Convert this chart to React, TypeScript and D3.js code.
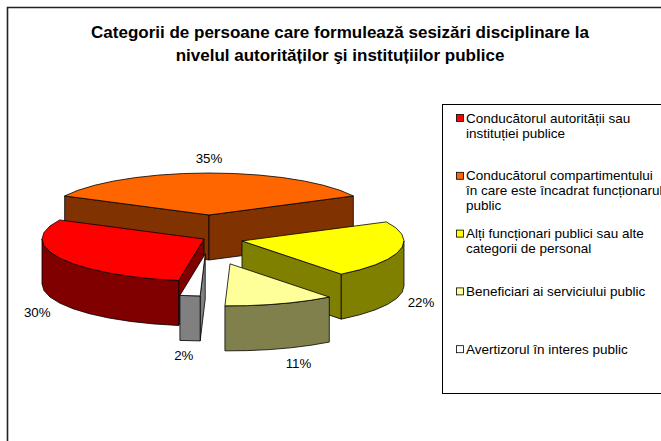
import * as d3 from "d3";

const categories = [
  "Conducătorul autorității sau instituției publice",
  "Conducătorul compartimentului în care este încadrat funcționarul public",
  "Alți funcționari publici sau alte categorii de personal",
  "Beneficiari ai serviciului public",
  "Avertizorul în interes public",
];
const values = [30, 35, 22, 11, 2];
const valueLabels = ["30%", "35%", "22%", "11%", "2%"];
const legendLines = [
  ["Conducătorul autorității sau", "instituției publice"],
  ["Conducătorul compartimentului", "în care este încadrat funcționarul", "public"],
  ["Alți funcționari publici sau alte", "categorii de personal"],
  ["Beneficiari ai serviciului public"],
  ["Avertizorul în interes public"],
];
const titleLines = [
  "Categorii de persoane care formulează sesizări disciplinare la",
  "nivelul autorităților şi instituțiilor publice",
];

const W = 661;
const H = 441;
const topFill = ["#FF0000", "#FF6600", "#FFFF00", "#FFFF99", "#FFFFFF"];
const sideFill = ["#800000", "#803300", "#808000", "#80804D", "#808080"];
// how far each slice is pulled out
const explode = [5.6, 57.5, 33.8, 68, 40];

const font = "'Liberation Sans', Arial, sans-serif";
const cx = 209;
const cy = 238;
const rx = 162;
const ry = 42;
const depth = 45;
const ke = 0.4;
const deg = Math.PI / 180;

type P = [number, number];

const line = d3.line<P>();
const poly = (pts: P[]) => line(pts) + "Z";

const App = () => {
  const pie = d3
    .pie<number>()
    .sort(null)
    .startAngle(189 * deg)
    .endAngle(189 * deg + 2 * Math.PI);
  const arcs = pie(values);

  const slices = arcs.map((a, i) => {
    const mid = (a.startAngle + a.endAngle) / 2;
    const ox = cx + explode[i] * Math.sin(mid);
    const oy = cy - explode[i] * ke * Math.cos(mid);
    const edge = (ang: number, h: number): P => [
      ox + rx * Math.sin(ang),
      oy - ry * Math.cos(ang) + h,
    ];
    const arcPts = (a0: number, a1: number, h: number): P[] => {
      const n = Math.max(1, Math.ceil((a1 - a0) / (9 * deg)));
      return d3.range(n + 1).map((k) => edge(a0 + ((a1 - a0) * k) / n, h));
    };
    const faces: string[] = [];
    const radial = (ang: number) =>
      poly([[ox, oy], edge(ang, 0), edge(ang, depth), [ox, oy + depth]]);
    if (Math.sin(a.startAngle) < 0) faces.push(radial(a.startAngle));
    if (Math.sin(a.endAngle) > 0) faces.push(radial(a.endAngle));
    // front part of the outer wall
    for (const base of [90 * deg, 450 * deg]) {
      const s = Math.max(a.startAngle, base);
      const e = Math.min(a.endAngle, base + Math.PI);
      if (e > s) {
        const upper = arcPts(s, e, 0);
        const lower = arcPts(s, e, depth).reverse();
        faces.push(poly([...upper, ...lower]));
      }
    }
    const top = poly([[ox, oy], ...arcPts(a.startAngle, a.endAngle, 0)]);
    const front = -Math.cos(mid) > 0;
    const lx =
      ox + (rx + 21) * Math.sin(mid) + 45 * Math.sin(mid) * Math.max(0, -Math.cos(mid)) ** 3;
    const ly = front
      ? oy - (ry + 10) * Math.cos(mid) + depth + 5
      : oy - (ry + 15) * Math.cos(mid);
    return { i, mid, faces, top, lx, ly };
  });

  const order = [...slices].sort((a, b) => -Math.cos(a.mid) + Math.cos(b.mid));

  const legendY = d3.scaleBand<string>().domain(categories).range([104, 393]);

  return (
    <svg
      width={W}
      height={H}
      style={{ position: "absolute", left: 0, top: 0, background: "#fff" }}
      fontFamily={font}
    >
      <path d={`M7.5,${H}V7.5H${W}`} fill="none" stroke="#222" strokeWidth={1.6} />
      {titleLines.map((t, k) => (
        <text
          key={k}
          x={340}
          y={32 + k * 23}
          textAnchor="middle"
          dominantBaseline="central"
          fontWeight="bold"
          fontSize={17}
        >
          {t}
        </text>
      ))}
      {order.map((s) => (
        <g key={s.i} stroke="#000" strokeWidth={0.8} strokeLinejoin="round">
          {s.faces.map((d, k) => (
            <path key={k} d={d} fill={sideFill[s.i]} />
          ))}
          <path d={s.top} fill={topFill[s.i]} />
        </g>
      ))}
      {slices.map((s) => (
        <text
          key={s.i}
          x={s.lx}
          y={s.ly}
          textAnchor="middle"
          dominantBaseline="central"
          fontSize={13.3}
        >
          {valueLabels[s.i]}
        </text>
      ))}
      <rect x={442.5} y={104.5} width={300} height={289} fill="#fff" stroke="#000" />
      {categories.map((c, i) => {
        const y0 = (legendY(c) ?? 0) + 14;
        return (
          <g key={c}>
            <rect
              x={456.5}
              y={y0 - 3.5}
              width={7}
              height={7}
              fill={topFill[i]}
              stroke="#000"
              strokeWidth={0.8}
            />
            {legendLines[i].map((t, k) => (
              <text key={k} x={466} y={y0 + k * 15} dominantBaseline="central" fontSize={13.5}>
                {t}
              </text>
            ))}
          </g>
        );
      })}
    </svg>
  );
};

export default App;
